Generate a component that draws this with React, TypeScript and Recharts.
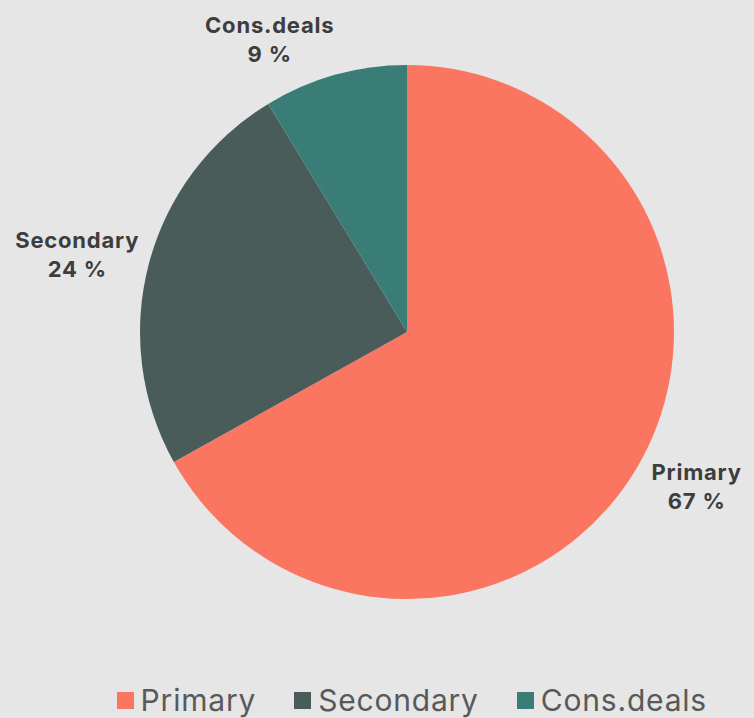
import { PieChart, Pie, Cell, Legend } from "recharts"

const categories = ["Primary", "Secondary", "Cons.deals"]
const shares = [66.9, 24.4, 8.7]
const colors = ["#fa7661", "#4a5c59", "#3a7d77"]

const chartData = categories.map((name, i) => ({ name, value: shares[i] }))

const RADIAN = Math.PI / 180
const CX = 407
const CY = 332
const OUTER = 267
const LABEL_OFFSET = 13
const LABEL_FONT = "700 22px Inter, sans-serif"

let ctx: CanvasRenderingContext2D | null = null
const measure = (s: string) => {
    if (!ctx) ctx = document.createElement("canvas").getContext("2d")
    if (!ctx) return s.length * 12
    ctx.font = LABEL_FONT
    return ctx.measureText(s).width + s.length * 0.8
}

// label box sits just outside the rim, pushed out by half its size
const renderLabel = (props: any) => {
    const { midAngle, name, value } = props
    const vx = Math.cos(-midAngle * RADIAN)
    const vy = Math.sin(-midAngle * RADIAN)
    const r = OUTER + LABEL_OFFSET
    const text = `${Math.round(value)} %`
    const w = Math.max(measure(name), measure(text))
    const h = 45
    const x = CX + r * vx + (vx < 0 ? -w / 2 : w / 2) + 3
    const y = CY + r * vy + (h / 2) * vy / Math.max(Math.abs(vx), Math.abs(vy))
    return (
        <text
            x={x}
            y={y}
            textAnchor="middle"
            fill="#3d3d3d"
            fontSize={22}
            fontWeight={700}
            letterSpacing={0.8}
            fontFamily="Inter, sans-serif"
        >
            <tspan x={x} y={y - 6.5}>{name}</tspan>
            <tspan x={x} y={y + 22.5}>{text}</tspan>
        </text>
    )
}

const renderLegend = () => (
    <div
        style={{
            display: "flex",
            justifyContent: "flex-end",
            alignItems: "center",
            gap: 38,
            paddingRight: 47,
            fontFamily: "Inter, sans-serif",
            fontSize: 30,
            letterSpacing: 0.8,
            color: "#595959",
        }}
    >
        {categories.map((c, i) => (
            <div key={c} style={{ display: "flex", alignItems: "center", gap: 7 }}>
                <span style={{ width: 17, height: 17, background: colors[i], display: "inline-block" }} />
                <span>{c}</span>
            </div>
        ))}
    </div>
)

export default function App() {
    return (
        <div style={{ width: 754, height: 718, background: "#e6e6e6", position: "absolute", left: 0, top: 0 }}>
            <PieChart width={754} height={718} margin={{ top: 0, right: 0, bottom: 0, left: 0 }}>
                <Pie
                    data={chartData}
                    dataKey="value"
                    nameKey="name"
                    cx={CX}
                    cy={CY}
                    outerRadius={OUTER}
                    startAngle={90}
                    endAngle={-270}
                    stroke="none"
                    label={renderLabel}
                    labelLine={false}
                    isAnimationActive={false}
                >
                    {chartData.map((entry, index) => (
                        <Cell key={index} fill={colors[index]} />
                    ))}
                </Pie>
                <Legend
                    verticalAlign="bottom"
                    content={renderLegend}
                    wrapperStyle={{ bottom: 0, left: 0, width: 754 }}
                />
            </PieChart>
        </div>
    )
}
